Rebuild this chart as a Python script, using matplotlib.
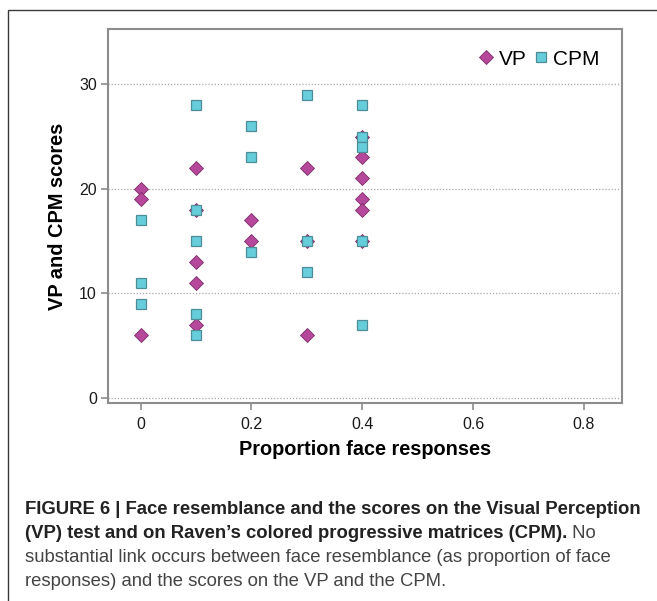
import matplotlib
matplotlib.use("Agg")
import matplotlib.pyplot as plt
from matplotlib.patches import Rectangle

# ---- data ----
vp_x = [0, 0, 0,
        0.1, 0.1, 0.1, 0.1, 0.1,
        0.2, 0.2,
        0.3, 0.3, 0.3,
        0.4, 0.4, 0.4, 0.4, 0.4, 0.4]
vp_y = [20, 19, 6,
        22, 18, 13, 11, 7,
        17, 15,
        22, 15, 6,
        25, 23, 21, 19, 18, 15]

cpm_x = [0, 0, 0,
         0.1, 0.1, 0.1, 0.1, 0.1,
         0.2, 0.2, 0.2,
         0.3, 0.3, 0.3,
         0.4, 0.4, 0.4, 0.4, 0.4]
cpm_y = [17, 11, 9,
         28, 18, 15, 8, 6,
         26, 23, 14,
         29, 15, 12,
         28, 25, 24, 15, 7]

x_ticks = [0, 0.2, 0.4, 0.6, 0.8]
x_tick_labels = ["0", "0.2", "0.4", "0.6", "0.8"]
y_ticks = [0, 10, 20, 30]
y_tick_labels = ["0", "10", "20", "30"]

x_label = "Proportion face responses"
y_label = "VP and CPM scores"
series_names = ["VP", "CPM"]

caption_bold_1 = "FIGURE 6 | Face resemblance and the scores on the Visual Perception"
caption_bold_2 = "(VP) test and on Raven\u2019s colored progressive matrices (CPM)."
caption_norm_2 = " No"
caption_norm_3 = "substantial link occurs between face resemblance (as proportion of face"
caption_norm_4 = "responses) and the scores on the VP and the CPM."

# ---- style ----
plt.rcParams['font.family'] = ['Liberation Sans', 'DejaVu Sans']
W, H = 657, 601
fig = plt.figure(figsize=(W / 100, H / 100), dpi=100)

vp_face, vp_edge = "#B6489C", "#7A2E68"
cpm_face, cpm_edge = "#66CDDB", "#4E8D98"
spine_col = "#8C8C8C"

ax = fig.add_axes([108 / W, 1 - 403 / H, (622 - 108) / W, (403 - 29) / H])
ax.set_xlim(-0.059, 0.869)
ax.set_ylim(-0.5, 35.3)

for y in y_ticks:
    ax.axhline(y, color="#A8A8A8", lw=0.9, ls=(0, (1, 1.5)), zorder=1)

ax.plot(vp_x, vp_y, ls="none", marker="D", ms=7.6, mfc=vp_face, mec=vp_edge,
        mew=0.6, zorder=3, label=series_names[0])
ax.plot(cpm_x, cpm_y, ls="none", marker="s", ms=7.4, mfc=cpm_face, mec=cpm_edge,
        mew=0.9, zorder=4, label=series_names[1])

ax.set_xticks(x_ticks)
ax.set_xticklabels(x_tick_labels)
ax.set_yticks(y_ticks)
ax.set_yticklabels(y_tick_labels)
ax.tick_params(axis="both", direction="out", length=5, width=1.2, color=spine_col,
               labelsize=11.5, labelcolor="#1a1a1a", pad=3)
ax.tick_params(axis="x", pad=5)
for s in ax.spines.values():
    s.set_color(spine_col)
    s.set_linewidth(1.5)

ax.set_xlabel(x_label, fontsize=14.3, fontweight="bold", labelpad=6)
ax.set_ylabel(y_label, fontsize=14.4, fontweight="bold", labelpad=9)

leg = ax.legend(loc="upper right", bbox_to_anchor=(0.957, 0.945), ncol=2, frameon=False,
                fontsize=15, handletextpad=0.2, columnspacing=0.3, handlelength=0.8,
                borderpad=0, borderaxespad=0)

# ---- outer frame ----
fig.add_artist(Rectangle((8 / W, -0.1), 1.2, 1 - 10 / H + 0.1, transform=fig.transFigure,
                         fill=False, ec="#3a3a3a", lw=1.0, zorder=0))

# ---- caption ----
cx = 25 / W
cap_fs = 13.3
ys = [509, 533, 557, 582]
fig.text(cx, 1 - ys[0] / H, caption_bold_1, fontsize=cap_fs, fontweight="bold",
         color="#222222", va="center", ha="left")
t2 = fig.text(cx, 1 - ys[1] / H, caption_bold_2, fontsize=cap_fs, fontweight="bold",
              color="#222222", va="center", ha="left")
fig.canvas.draw()
bb = t2.get_window_extent(renderer=fig.canvas.get_renderer())
fig.text(bb.x1 / W, 1 - ys[1] / H, caption_norm_2, fontsize=cap_fs, color="#444444",
         va="center", ha="left")
fig.text(cx, 1 - ys[2] / H, caption_norm_3, fontsize=cap_fs, color="#444444",
         va="center", ha="left")
fig.text(cx, 1 - ys[3] / H, caption_norm_4, fontsize=cap_fs, color="#444444",
         va="center", ha="left")

fig.savefig("out.png", dpi=100)
